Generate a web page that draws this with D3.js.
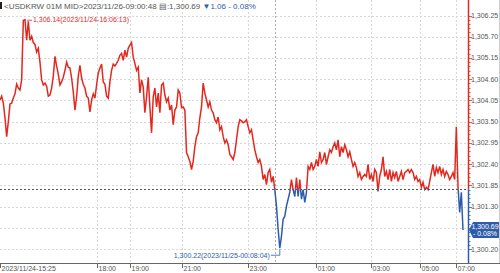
<!DOCTYPE html>
<html>
<head>
<meta charset="utf-8">
<script src="https://cdn.jsdelivr.net/npm/d3@7"></script>
<style>
  html, body { margin: 0; padding: 0; background: #fff; }
  svg { display: block; font-family: "Liberation Sans", Arial, sans-serif; }
</style>
</head>
<body>
<div id="chart"></div>
<script>
// USDKRW 01M MID, one value per tick sample
const values = [
  1304.06, 1304.16, 1303.98, 1303.60, 1303.11, 1303.50, 1303.96, 1303.98, 1304.11, 1304.22,
  1304.47, 1304.37, 1304.32, 1304.58, 1306.12, 1306.14, 1305.61, 1306.10, 1305.61, 1305.71,
  1305.55, 1305.50, 1305.30, 1305.40, 1305.04, 1304.58, 1304.45, 1304.50, 1304.42, 1304.16,
  1304.19, 1304.37, 1304.68, 1305.19, 1304.94, 1304.73, 1304.45, 1304.53, 1304.65, 1304.83,
  1305.04, 1304.91, 1304.89, 1304.63, 1304.27, 1303.80, 1304.14, 1304.68, 1304.96, 1304.63,
  1304.47, 1304.37, 1304.16, 1304.11, 1303.75, 1304.06, 1304.22, 1304.11, 1304.45, 1304.76,
  1304.89, 1304.99, 1304.53, 1304.47, 1304.16, 1304.11, 1304.53, 1304.83, 1304.99, 1304.94,
  1305.01, 1305.09, 1305.22, 1305.27, 1305.09, 1305.35, 1305.17, 1305.40, 1305.48, 1305.55,
  1305.17, 1305.01, 1304.83, 1304.91, 1304.24, 1304.58, 1304.40, 1303.73, 1304.14, 1304.65,
  1303.88, 1303.21, 1304.14, 1304.37, 1303.88, 1304.24, 1303.73, 1304.45, 1304.50, 1304.19,
  1304.01, 1304.11, 1303.80, 1303.93, 1303.42, 1303.80, 1303.88, 1304.32, 1304.24, 1303.86,
  1303.88, 1303.80, 1302.70, 1302.59, 1302.47, 1302.26, 1302.47, 1302.85, 1303.11, 1303.21,
  1303.60, 1303.88, 1304.50, 1304.24, 1304.06, 1303.88, 1304.01, 1303.80, 1303.73, 1303.55,
  1303.47, 1303.62, 1303.29, 1303.37, 1303.11, 1302.95, 1303.03, 1302.90, 1302.65, 1302.59,
  1302.52, 1302.70, 1303.03, 1303.37, 1303.55, 1303.52, 1303.47, 1303.50, 1303.55, 1303.37,
  1303.21, 1303.29, 1303.03, 1302.77, 1302.59, 1302.44, 1302.52, 1302.34, 1302.00, 1302.13,
  1301.87, 1302.18, 1302.26, 1301.93, 1302.08, 1301.74, 1301.31, 1300.71, 1300.22, 1300.53,
  1300.97, 1301.05, 1301.31, 1301.49, 1301.67, 1302.00, 1301.74, 1301.56, 1302.05, 1301.56,
  1302.00, 1301.49, 1301.74, 1301.41, 1301.67, 1302.34, 1302.26, 1302.44, 1302.26, 1302.34,
  1302.52, 1302.34, 1302.72, 1302.44, 1302.52, 1302.70, 1302.39, 1302.59, 1302.77, 1302.70,
  1302.85, 1302.95, 1302.77, 1303.03, 1302.59, 1302.85, 1302.70, 1302.90, 1302.77, 1302.59,
  1302.72, 1302.52, 1302.34, 1302.44, 1302.31, 1302.08, 1302.18, 1302.00, 1302.08, 1302.13,
  1302.08, 1302.39, 1302.00, 1302.13, 1301.95, 1302.26, 1302.18, 1301.69, 1302.08, 1302.26,
  1302.59, 1302.08, 1302.21, 1302.00, 1302.26, 1301.95, 1302.18, 1302.05, 1302.21, 1301.95,
  1302.08, 1302.21, 1302.00, 1302.18, 1302.21, 1302.26, 1302.18, 1302.26, 1302.18, 1302.00,
  1302.08, 1301.95, 1302.00, 1301.80, 1301.93, 1301.74, 1301.80, 1301.74, 1301.95, 1302.18,
  1302.39, 1302.08, 1302.31, 1302.18, 1302.34, 1302.13, 1302.26, 1302.08, 1302.21, 1302.13,
  1302.00, 1302.08, 1302.18, 1302.00, 1303.37, 1301.82, 1301.15, 1301.67, 1300.69
];

const basePrice = 1301.75;      // previous close, red above / blue below
const lastPrice = 1300.69;
const change = -1.06;
const changePct = -0.08;

const yTicks = [1306.25, 1305.70, 1305.15, 1304.60, 1304.05, 1303.50, 1302.95,
                1302.40, 1301.85, 1301.30, 1300.75, 1300.20];

const xTickIdx = [0, 58, 78, 109, 149, 190, 223, 252, 274];
const xTickLabels = ['2023/11/24-15:25', '18:00', '19:00', '21:00', '23:00',
                     '01:00', '03:00', '05:00', '07:00'];
const dayBreakIdx = 165;

const maxLabel = '1,306.14(2023/11/24-16:06:13)';
const minLabel = '1,300.22(2023/11/25-00:08:04)';

const W = 500, H = 273;
const plotRight = 468, axisY = 263;
const RED = '#e3281f', BLUE = '#2e5ca9', TXT = '#555';

const svg = d3.select('#chart').append('svg')
  .attr('width', W).attr('height', H);

const x = d3.scaleLinear().domain([0, values.length - 1]).range([0, 463]);
const y = d3.scaleLinear().domain([1300.20, 1306.25]).range([249, 15.5]);
const fmt = d3.format(',.2f');

// horizontal grid
svg.append('g').selectAll('line').data(yTicks).enter().append('line')
  .attr('x1', 0).attr('x2', plotRight)
  .attr('y1', d => Math.round(y(d)) + 0.5).attr('y2', d => Math.round(y(d)) + 0.5)
  .attr('stroke', '#d8d8d8').attr('stroke-dasharray', '2,2');

// vertical grid
svg.append('g').selectAll('line').data(xTickIdx.slice(1)).enter().append('line')
  .attr('x1', d => Math.round(x(d)) + 0.5).attr('x2', d => Math.round(x(d)) + 0.5)
  .attr('y1', 0).attr('y2', axisY)
  .attr('stroke', '#d8d8d8').attr('stroke-dasharray', '2,2');

// day break line
svg.append('line')
  .attr('x1', Math.round(x(dayBreakIdx)) + 0.5).attr('x2', Math.round(x(dayBreakIdx)) + 0.5)
  .attr('y1', 0).attr('y2', axisY)
  .attr('stroke', '#aaa').attr('stroke-dasharray', '2,2');

// base price line
const yBase = y(basePrice);
svg.append('line')
  .attr('x1', 0).attr('x2', plotRight)
  .attr('y1', Math.round(yBase) + 0.5).attr('y2', Math.round(yBase) + 0.5)
  .attr('stroke', '#555').attr('stroke-dasharray', '2,2');

// clip regions for up / down colouring
const defs = svg.append('defs');
defs.append('clipPath').attr('id', 'clipUp').append('rect')
  .attr('x', 0).attr('y', 0).attr('width', W).attr('height', yBase);
defs.append('clipPath').attr('id', 'clipDn').append('rect')
  .attr('x', 0).attr('y', yBase).attr('width', W).attr('height', H - yBase);

const line = d3.line().x((d, i) => x(i)).y(d => y(d));

svg.append('path').datum(values)
  .attr('d', line).attr('fill', 'none')
  .attr('stroke', RED).attr('stroke-width', 1.5)
  .attr('clip-path', 'url(#clipUp)');
svg.append('path').datum(values)
  .attr('d', line).attr('fill', 'none')
  .attr('stroke', BLUE).attr('stroke-width', 1.5)
  .attr('clip-path', 'url(#clipDn)');

// right axis line: red above base, blue below
svg.append('line').attr('x1', plotRight + 0.5).attr('x2', plotRight + 0.5)
  .attr('y1', 0).attr('y2', yBase).attr('stroke', RED).attr('stroke-width', 1.5);
svg.append('line').attr('x1', plotRight + 0.5).attr('x2', plotRight + 0.5)
  .attr('y1', yBase).attr('y2', axisY).attr('stroke', BLUE).attr('stroke-width', 1.5);

// minor ticks on right axis
const minor = d3.range(0, 56).map(k => 1300.20 + k * 0.11).filter(v => y(v) > 2);
svg.append('g').selectAll('line').data(minor).enter().append('line')
  .attr('x1', plotRight + 1)
  .attr('x2', (d, k) => plotRight + (k % 5 === 0 ? 4 : 2.5))
  .attr('y1', d => Math.round(y(d)) + 0.5).attr('y2', d => Math.round(y(d)) + 0.5)
  .attr('stroke', d => d >= basePrice ? RED : BLUE).attr('stroke-width', 0.8);

// y tick labels
svg.append('g').selectAll('text').data(yTicks.filter(d => d !== 1300.75)).enter().append('text')
  .attr('x', 471).attr('y', d => y(d) + 2.5)
  .attr('font-size', 7).attr('fill', TXT)
  .text(d => fmt(d));

// last price badge
const yLast = y(lastPrice);
svg.append('path')
  .attr('d', `M${plotRight + 1},${yLast} L${plotRight + 5},${yLast - 8} L${W},${yLast - 8} L${W},${yLast + 8} L${plotRight + 5},${yLast + 8} Z`)
  .attr('fill', BLUE);
svg.append('text').attr('x', 485).attr('y', yLast - 1).attr('text-anchor', 'middle')
  .attr('font-size', 7).attr('fill', '#fff').text(fmt(lastPrice));
svg.append('text').attr('x', 485).attr('y', yLast + 6).attr('text-anchor', 'middle')
  .attr('font-size', 7).attr('fill', '#fff').text('- ' + Math.abs(changePct).toFixed(2) + '%');

// bottom axis
svg.append('line').attr('x1', 0).attr('x2', W).attr('y1', axisY + 0.5).attr('y2', axisY + 0.5)
  .attr('stroke', '#666');
svg.append('line').attr('x1', W - 0.5).attr('x2', W - 0.5).attr('y1', 0).attr('y2', axisY)
  .attr('stroke', '#ccc');

const xt = svg.append('g').selectAll('g').data(xTickIdx).enter().append('g')
  .attr('transform', d => `translate(${Math.round(x(d)) + 0.5},0)`);
xt.append('line').attr('y1', axisY).attr('y2', axisY + 5).attr('stroke', '#666');
xt.append('text').attr('x', 1).attr('y', 271)
  .attr('font-size', 7).attr('fill', TXT)
  .text((d, i) => xTickLabels[i]);

// max / min annotations
const iMax = d3.maxIndex(values), iMin = d3.minIndex(values);
const mx = x(iMax), my = y(values[iMax]);
svg.append('line').attr('x1', mx + 2).attr('x2', mx + 7).attr('y1', my + 0.5).attr('y2', my + 0.5)
  .attr('stroke', RED).attr('stroke-width', 0.8);
svg.append('text').attr('x', mx + 8).attr('y', my + 2.5)
  .attr('font-size', 7).attr('fill', RED).text(maxLabel);

const nx = x(iMin), ny = y(values[iMin]);
svg.append('path')
  .attr('d', `M${nx},${ny + 1} L${nx},${ny + 7} L${nx - 9},${ny + 7}`)
  .attr('fill', 'none').attr('stroke', BLUE).attr('stroke-width', 0.8);
svg.append('text').attr('x', nx - 10).attr('y', ny + 9.5).attr('text-anchor', 'end')
  .attr('font-size', 7).attr('fill', BLUE).text(minLabel);

// header
svg.append('rect').attr('x', 0).attr('y', 2).attr('width', 2).attr('height', 7).attr('fill', '#222');
const hdr = svg.append('text').attr('x', 4).attr('y', 8.5).attr('font-size', 8).attr('fill', TXT);
hdr.append('tspan').text('<USDKRW 01M MID>2023/11/26-09:00:48 \u25A4:' + fmt(lastPrice) + ' ');
hdr.append('tspan').attr('fill', BLUE)
  .text('\u25BC' + Math.abs(change).toFixed(2) + '  - ' + Math.abs(changePct).toFixed(2) + '%');
</script>
</body>
</html>
